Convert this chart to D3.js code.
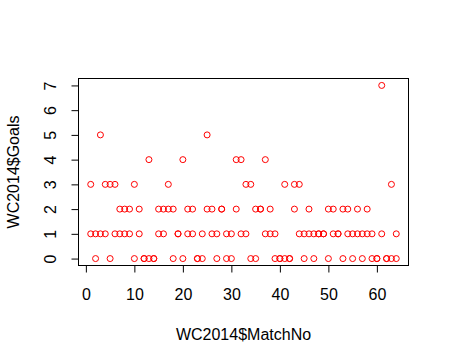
<!DOCTYPE html>
<html>
<head>
<meta charset="utf-8">
<script src="https://cdn.jsdelivr.net/npm/d3@7"></script>
<style>
  body { margin: 0; background: #fff; }
  text { font-family: "Liberation Sans", Arial, sans-serif; fill: #000; }
</style>
</head>
<body>
<div class="graph"></div>
<script>
// match numbers, goals of the first and of the second team in each match
const matchNo = [1, 2, 3, 4, 5, 6, 7, 8, 9, 10, 11, 12, 13, 14, 15, 16,
  17, 18, 19, 20, 21, 22, 23, 24, 25, 26, 27, 28, 29, 30, 31, 32,
  33, 34, 35, 36, 37, 38, 39, 40, 41, 42, 43, 44, 45, 46, 47, 48,
  49, 50, 51, 52, 53, 54, 55, 56, 57, 58, 59, 60, 61, 62, 63, 64];
const homeGoals = [3, 1, 1, 3, 3, 1, 1, 2, 2, 3, 2, 0, 4, 0, 1, 2,
  2, 0, 1, 0, 2, 2, 0, 0, 2, 1, 1, 2, 1, 1, 2, 1,
  1, 0, 2, 2, 1, 2, 0, 0, 0, 0, 2, 3, 0, 2, 0, 1,
  1, 2, 2, 1, 2, 2, 1, 2, 0, 2, 1, 0, 1, 0, 0, 1];
const awayGoals = [1, 0, 5, 1, 0, 3, 2, 1, 1, 0, 1, 0, 0, 0, 2, 1,
  3, 2, 1, 4, 1, 1, 0, 1, 5, 2, 0, 2, 0, 0, 4, 4,
  3, 3, 0, 2, 4, 1, 1, 0, 3, 0, 3, 1, 1, 1, 1, 1,
  1, 0, 1, 1, 0, 1, 0, 1, 1, 1, 0, 0, 7, 0, 3, 0];
const xTicks = [0, 10, 20, 30, 40, 50, 60];
const yTicks = [0, 1, 2, 3, 4, 5, 6, 7];

// one row per team per match, like WC2014$MatchNo / WC2014$Goals
const data = [];
matchNo.forEach(function(m, i) {
    data.push({ match: m, goals: homeGoals[i] });
    data.push({ match: m, goals: awayGoals[i] });
});

const W = 449, H = 363;
const box = { left: 78.5, right: 408.5, top: 78.5, bottom: 265.5 };

const svg = d3.select(".graph")
    .append("svg")
    .attr("width", W)
    .attr("height", H);

// R pads the data range by 4% on each side
const x = d3.scaleLinear()
    .domain([1 - 63 * 0.04, 64 + 63 * 0.04])
    .range([box.left, box.right]);
const y = d3.scaleLinear()
    .domain([-7 * 0.04, 7 + 7 * 0.04])
    .range([box.bottom, box.top]);

// x axis
const gx = svg.append("g")
    .attr("transform", "translate(0," + box.bottom + ")")
    .call(d3.axisBottom(x).tickValues(xTicks).tickSize(7).tickPadding(16.6).tickFormat(d3.format("d")));
gx.select(".domain").remove();
gx.selectAll("line").attr("stroke", "#000");
gx.selectAll("text").style("font-size", "16px").attr("fill", "#000");

// y axis, labels turned parallel to the axis
const gy = svg.append("g")
    .attr("transform", "translate(" + box.left + ",0)")
    .call(d3.axisLeft(y).tickValues(yTicks).tickSize(7).tickFormat(d3.format("d")));
gy.select(".domain").remove();
gy.selectAll("line").attr("stroke", "#000");
gy.selectAll("text")
    .attr("x", null)
    .attr("dy", null)
    .attr("text-anchor", "middle")
    .attr("transform", "translate(-23,0) rotate(-90)")
    .style("font-size", "16px")
    .attr("fill", "#000");

// plot box
svg.append("rect")
    .attr("x", box.left)
    .attr("y", box.top)
    .attr("width", box.right - box.left)
    .attr("height", box.bottom - box.top)
    .attr("fill", "none")
    .attr("stroke", "#000")
    .attr("stroke-width", 1);

// axis titles
svg.append("text")
    .attr("x", (box.left + box.right) / 2)
    .attr("y", 339.5)
    .attr("text-anchor", "middle")
    .style("font-size", "16px")
    .text("WC2014$MatchNo");

svg.append("text")
    .attr("transform", "translate(18.5," + (box.top + box.bottom) / 2 + ") rotate(-90)")
    .attr("text-anchor", "middle")
    .style("font-size", "16px")
    .text("WC2014$Goals");

// points
svg.append("g")
    .selectAll("circle")
    .data(data)
    .enter()
        .append("circle")
        .attr("cx", function(d) { return x(d.match); })
        .attr("cy", function(d) { return y(d.goals); })
        .attr("r", 3)
        .attr("fill", "none")
        .attr("stroke", "#ff0000")
        .attr("stroke-width", 1);
</script>
</body>
</html>
